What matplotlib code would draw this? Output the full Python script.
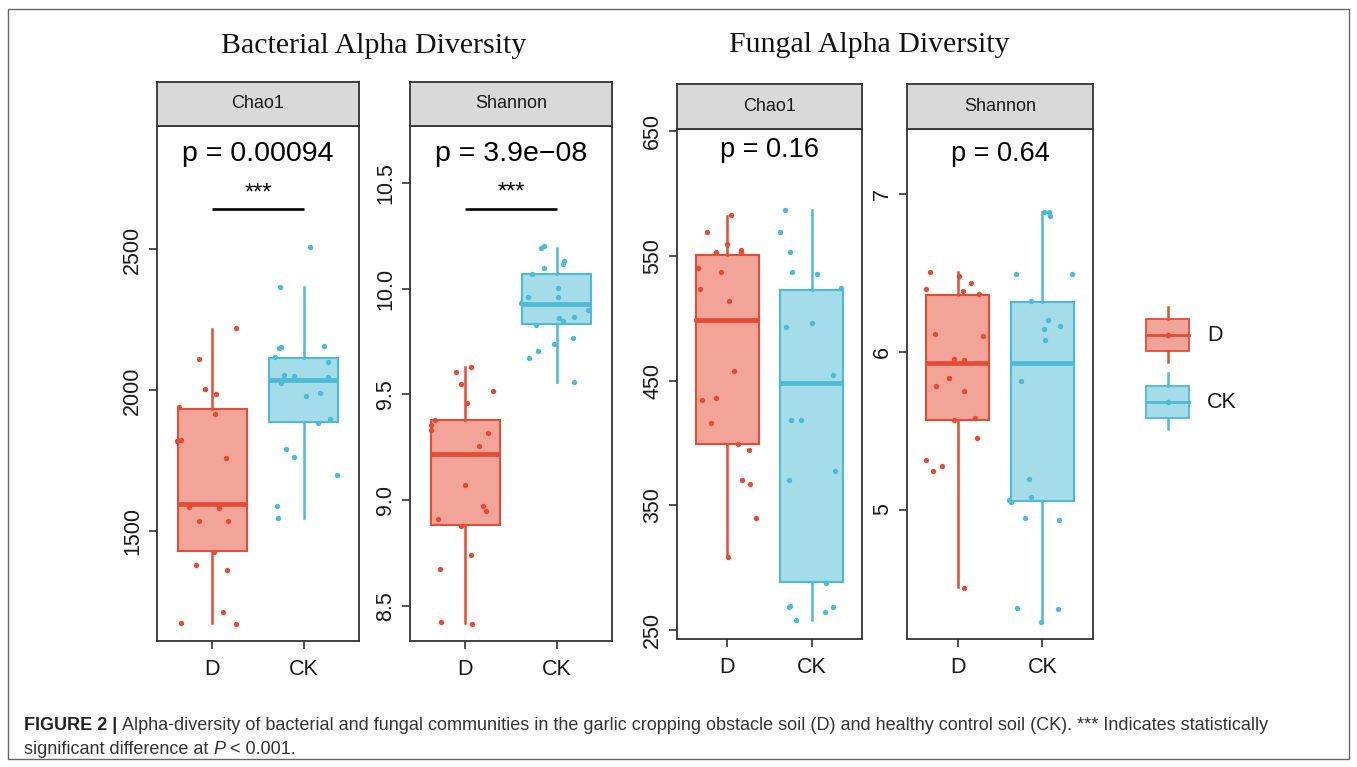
import numpy as np
import matplotlib
matplotlib.use("Agg")
import matplotlib.pyplot as plt
from matplotlib.patches import Rectangle
from matplotlib.colors import to_rgba

plt.rcParams['font.family'] = ['Liberation Sans', 'DejaVu Sans']

W, H = 1357, 767
RED = "#E64B35"
BLUE = "#4DBBD5"
groups = ["D", "CK"]

# ---- bacterial Chao1 ----
bac_chao_D = [1174, 1170, 1213, 1380, 1364, 1428, 1535, 1535, 1588, 1584,
              1759, 1822, 1825, 1941, 1917, 1987, 2005, 2112, 2220]
bac_chao_D_jit = [-0.34, 0.26, 0.12, -0.18, 0.16, 0.02, -0.14, 0.17, -0.25, 0.08,
                  0.15, -0.38, -0.34, -0.36, 0.03, 0.04, -0.08, -0.14, 0.26]
bac_chao_CK = [2508, 2367, 2153, 2150, 2158, 2117, 2101, 2053, 2051, 2038, 2025,
               2049, 1980, 1992, 1897, 1884, 1792, 1763, 1701, 1591, 1546]
bac_chao_CK_jit = [0.07, -0.26, -0.25, -0.27, 0.22, -0.31, 0.26, -0.22, -0.11, -0.35, -0.25,
                   0.26, 0.02, 0.17, 0.28, 0.15, -0.19, -0.11, 0.36, -0.29, -0.28]
# whisker low, q1, median, q3, whisker high
bac_chao_box_D = [1174, 1430, 1597, 1933, 2217]
bac_chao_box_CK = [1549, 1887, 2038, 2114, 2367]

# ---- bacterial Shannon ----
bac_shan_D = [8.426, 8.414, 8.677, 8.74, 8.909, 8.879, 8.947, 8.972, 9.072, 9.256,
              9.318, 9.354, 9.377, 9.333, 9.458, 9.514, 9.547, 9.607, 9.628]
bac_shan_D_jit = [-0.26, 0.08, -0.27, 0.06, -0.29, -0.05, 0.23, 0.20, 0.00, 0.15,
                  0.25, -0.37, -0.33, -0.37, 0.02, 0.30, -0.05, -0.10, 0.06]
bac_shan_CK = [9.672, 9.705, 9.558, 9.739, 9.768, 9.828, 9.86, 9.847, 9.865, 9.9,
               9.93, 9.961, 9.958, 10.004, 10.07, 10.098, 10.116, 10.13, 10.191, 10.2]
bac_shan_CK_jit = [-0.30, -0.21, 0.19, -0.03, 0.18, -0.23, 0.02, 0.07, 0.19, 0.34,
                   -0.39, -0.31, 0.01, 0.01, -0.27, -0.14, 0.07, 0.08, -0.17, -0.14]
bac_shan_box_D = [8.418, 8.884, 9.219, 9.377, 9.628]
bac_shan_box_CK = [9.558, 9.832, 9.926, 10.067, 10.193]

# ---- fungal Chao1 ----
fun_chao_D = [582.4, 308.3, 568.8, 552.7, 559.2, 554.8, 552.7, 539.9, 536.9, 523.5, 514,
              498.8, 458, 434.2, 436, 415.8, 399.4, 394, 370.2, 367.3, 339.6]
fun_chao_D_jit = [0.04, 0.01, -0.24, -0.14, 0.00, 0.16, 0.16, -0.35, -0.08, -0.33, 0.02,
                  -0.38, 0.08, -0.30, -0.14, -0.19, 0.12, 0.26, 0.17, 0.27, 0.34]
fun_chao_CK = [586.6, 568.8, 552.7, 536.6, 535.7, 523.8, 493.2, 496.4, 454.2, 418.2,
               418.2, 370, 377.4, 287.5, 269.5, 268.5, 258, 264.4, 268.7]
fun_chao_CK_jit = [-0.32, -0.37, -0.26, -0.23, 0.07, 0.35, -0.30, 0.01, 0.26, -0.25,
                   -0.12, -0.27, 0.28, 0.17, -0.26, -0.27, -0.19, 0.16, 0.26]
fun_chao_box_D = [308.3, 399.4, 498.8, 550.3, 581.5]
fun_chao_box_CK = [258, 288.4, 448.2, 522.6, 586.6]

# ---- fungal Shannon ----
fun_shan_D = [6.507, 6.481, 6.434, 6.394, 6.383, 6.366, 6.110, 6.099, 5.953, 5.944,
              5.831, 5.782, 5.751, 5.568, 5.582, 5.451, 5.315, 5.246, 5.277, 4.505]
fun_shan_D_jit = [-0.33, 0.02, 0.16, -0.37, 0.06, 0.25, -0.27, 0.30, -0.05, 0.08,
                  -0.10, -0.26, 0.08, -0.04, 0.20, 0.23, -0.37, -0.29, -0.19, 0.07]
fun_shan_CK = [6.885, 6.885, 6.859, 6.493, 6.493, 6.319, 6.202, 6.143, 6.073, 6.164,
               5.812, 5.195, 5.08, 5.063, 5.049, 4.948, 4.932, 4.376, 4.369, 4.286]
fun_shan_CK_jit = [0.02, 0.08, 0.09, -0.31, 0.35, -0.13, 0.07, 0.02, 0.03, 0.21,
                   -0.25, -0.16, -0.13, -0.39, -0.37, -0.20, 0.20, -0.30, 0.19, -0.02]
fun_shan_box_D = [4.512, 5.570, 5.925, 6.361, 6.505]
fun_shan_box_CK = [4.289, 5.056, 5.925, 6.317, 6.885]

fig = plt.figure(figsize=(W / 100, H / 100), dpi=100)


def px_axes(x0, y0, x1, y1, **kw):
    # axes placed by pixel box (top-left origin)
    return fig.add_axes([x0 / W, 1 - y1 / H, (x1 - x0) / W, (y1 - y0) / H], **kw)


def panel(rect, strip_top, name, ylim, yticks, ytl, D, Dj, CK, CKj, boxD, boxCK,
          ptext, p_y, psize, sig=None):
    x0, y0, x1, y1 = rect
    ax = px_axes(x0, y0, x1, y1)
    stats = []
    for b in (boxD, boxCK):
        stats.append(dict(whislo=b[0], q1=b[1], med=b[2], q3=b[3], whishi=b[4], fliers=[]))
    art = ax.bxp(stats, positions=[1, 2], widths=0.75, patch_artist=True,
                 showfliers=False, showcaps=False)
    for i, c in enumerate([RED, BLUE]):
        art['boxes'][i].set(facecolor=to_rgba(c, 0.5), edgecolor=c, linewidth=1.5)
        art['medians'][i].set(color=c, linewidth=3.4, solid_capstyle='butt')
        for w in art['whiskers'][2 * i:2 * i + 2]:
            w.set(color=c, linewidth=1.8)
    ax.scatter(1 + np.array(Dj), D, s=15, color=RED, linewidths=0, zorder=4)
    ax.scatter(2 + np.array(CKj), CK, s=15, color=BLUE, linewidths=0, zorder=4)

    ax.set_xlim(0.4, 2.6)
    ax.set_ylim(*ylim)
    ax.set_xticks([1, 2])
    ax.set_xticklabels(groups)
    ax.set_yticks(yticks)
    ax.set_yticklabels(ytl)
    ax.tick_params(length=6, width=1.2, color='#333333', labelsize=15.5,
                   labelcolor='#1a1a1a')
    ax.tick_params(axis='x', pad=7)
    ax.tick_params(axis='y', pad=4, labelrotation=90)
    for lab in ax.get_yticklabels():
        lab.set_va('center')
    for s in ax.spines.values():
        s.set_color('#333333')
        s.set_linewidth(1.3)

    ax.text(1.5, p_y, ptext, ha='center', va='center', fontsize=psize, color='black')
    if sig is not None:
        bar_y, star_y = sig
        ax.plot([1, 2], [bar_y, bar_y], color='black', lw=1.9, solid_capstyle='butt')
        ax.text(1.5, star_y, "***", ha='center', va='center', fontsize=17, color='black')

    st = px_axes(x0, strip_top, x1, y0)
    st.set_facecolor('#D9D9D9')
    st.set_xticks([])
    st.set_yticks([])
    for s in st.spines.values():
        s.set_color('#333333')
        s.set_linewidth(1.3)
    st.text(0.5, 0.5, name, ha='center', va='center', fontsize=13,
            color='#1a1a1a', transform=st.transAxes)
    return ax


panel((157, 126, 359, 641), 82, "Chao1", (1111, 2938), [1500, 2000, 2500],
      ["1500", "2000", "2500"], bac_chao_D, bac_chao_D_jit, bac_chao_CK, bac_chao_CK_jit,
      bac_chao_box_D, bac_chao_box_CK, "p = 0.00094", 2838, 20.5, sig=(2643, 2700))

panel((410, 126, 612, 641), 82, "Shannon", (8.335, 10.768), [8.5, 9.0, 9.5, 10.0, 10.5],
      ["8.5", "9.0", "9.5", "10.0", "10.5"], bac_shan_D, bac_shan_D_jit, bac_shan_CK,
      bac_shan_CK_jit, bac_shan_box_D, bac_shan_box_CK, "p = 3.9e\u221208", 10.637, 20.5,
      sig=(10.377, 10.455))

panel((677, 129, 862, 639), 84, "Chao1", (242.8, 651.6), [250, 350, 450, 550, 650],
      ["250", "350", "450", "550", "650"], fun_chao_D, fun_chao_D_jit, fun_chao_CK,
      fun_chao_CK_jit, fun_chao_box_D, fun_chao_box_CK, "p = 0.16", 634.5, 19.5)

panel((907, 129, 1093, 639), 84, "Shannon", (4.18, 7.41), [5, 6, 7],
      ["5", "6", "7"], fun_shan_D, fun_shan_D_jit, fun_shan_CK, fun_shan_CK_jit,
      fun_shan_box_D, fun_shan_box_CK, "p = 0.64", 7.25, 19.5)

# overlay in pixel units for titles, legend and caption frame
ov = fig.add_axes([0, 0, 1, 1], zorder=-1)
ov.set_xlim(0, W)
ov.set_ylim(H, 0)
ov.axis('off')

ov.text(374, 53, "Bacterial Alpha Diversity", ha='center', va='baseline',
        fontsize=21.5, family=['Liberation Serif', 'DejaVu Serif'], color='#111111')
ov.text(869.5, 52, "Fungal Alpha Diversity", ha='center', va='baseline',
        fontsize=21.5, family=['Liberation Serif', 'DejaVu Serif'], color='#111111')

# legend keys
for c, top, bot, wtop, wbot, med, lab in [(RED, 319, 351, 307, 362, 334.5, "D"),
                                          (BLUE, 386, 418, 373, 429, 402, "CK")]:
    ov.add_patch(Rectangle((1146, top), 43, bot - top, fc=to_rgba(c, 0.5), ec=c, lw=1.3))
    ov.plot([1167.5, 1167.5], [wtop, top], color=c, lw=1.8)
    ov.plot([1167.5, 1167.5], [bot, wbot], color=c, lw=1.8)
    ov.plot([1146, 1189], [med, med], color=c, lw=2.0)
    ov.plot([1167.5], [med], 'o', ms=3, color=c)
    ov.text(1207, med + 1, lab, fontsize=15.5, va='center', ha='left', color='#1a1a1a')

ov.add_patch(Rectangle((8, 9), 1341, 750, fill=False, ec='#666666', lw=1.0))

# caption with bold label and italic P
cap_size = 13
renderer = fig.canvas.get_renderer()


def run_text(x, y, parts):
    for txt, kw in parts:
        style = dict(va='baseline', ha='left', fontsize=cap_size, color='#333333')
        style.update(kw)
        t = ov.text(x, y, txt, **style)
        bb = t.get_window_extent(renderer)
        x += bb.width
    return x


run_text(24, 729.5, [("FIGURE 2 | ", dict(weight='bold', color='#222222')),
                     ("Alpha-diversity of bacterial and fungal communities in the garlic cropping "
                      "obstacle soil (D) and healthy control soil (CK). *** Indicates statistically", {})])
run_text(24, 754, [("significant difference at ", {}), ("P", dict(style='italic')),
                   (" < 0.001.", {})])

fig.savefig("out.png", dpi=100)
